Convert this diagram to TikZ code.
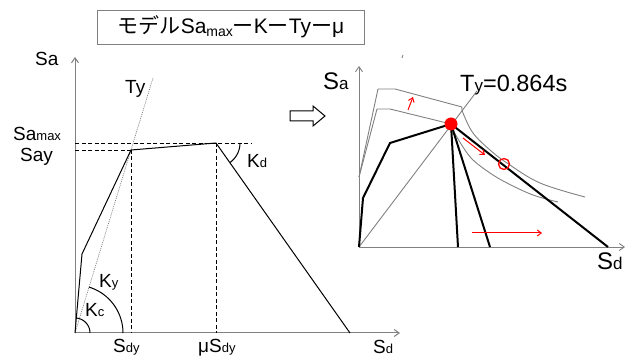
\documentclass[tikz,border=0pt]{standalone}
\usepackage{fontspec}
\setmainfont{Liberation Sans}
\newfontfamily\jpfont{Noto Sans CJK JP}
\usetikzlibrary{arrows.meta}

% small letters set after a capital
\newcommand{\lsub}[1]{{\fontsize{13}{13}\selectfont #1}}
\newcommand{\rsub}[1]{{\fontsize{17}{17}\selectfont #1}}

\begin{document}
\begin{tikzpicture}[x=1pt, y=-1pt,
    axis/.style={-{Straight Barb[length=5pt,width=7pt]}, draw=gray, line width=1pt},
    guide/.style={dash pattern=on 4pt off 2.5pt, line width=0.9pt},
    bone/.style={line width=1pt, line join=round},
    heavy/.style={line width=2pt, line join=round},
    curve/.style={draw=gray, line width=0.9pt, line join=round},
    redarrow/.style={red, line width=1pt, -{Straight Barb[length=4pt,width=6pt]}},
    lbl/.style={inner sep=0pt, anchor=base west, font=\fontsize{19}{19}\selectfont},
    rlbl/.style={inner sep=0pt, anchor=base west, font=\fontsize{24}{24}\selectfont}]
    \useasboundingbox (0,0) rectangle (630,358);

    % Title
    \node[draw=gray, line width=0.8pt, minimum width=267pt, minimum height=34pt] (titlebox) at (231,27) {};
    \node[font=\fontsize{21}{21}\selectfont] (title) at (231,27)
        {{\jpfont モデル}Sa\raisebox{-3pt}{\fontsize{14}{14}\selectfont max}{\jpfont ー}K{\jpfont ー}Ty{\jpfont ー}μ};

    % Left: axes
    \coordinate (O) at (75,333);
    \draw[axis] (O) -- (75,57);
    \draw[axis] (O) -- (400,333);
    \node[lbl] (sa) at (35,66) {Sa};
    \node[lbl] (sd) at (373,354) {S\lsub{d}};

    % Ty line
    \draw[gray, dash pattern=on 1pt off 1pt, line width=0.7pt] (O) -- (153,78);
    \node[lbl] (ty) at (125,94) {Ty};

    % Skeleton curve
    \coordinate (C) at (82,254);
    \coordinate (Y) at (131,150);
    \coordinate (M) at (216,143);
    \coordinate (U) at (350,333);
    \draw[bone] (O) -- (C) -- (Y) -- (M) -- (U);

    % Guides
    \draw[guide] (75,143) -- (252,143);
    \draw[guide] (75,150) -- (Y);
    \draw[guide] (Y) -- (131,333);
    \draw[guide] (M) -- (216,333);
    \node[lbl] (samax) at (13,141) {Sa\lsub{max}};
    \node[lbl] (say) at (20,162) {Say};
    \node[lbl] (sdy) at (113,353) {S\lsub{dy}};
    \node[lbl] (musdy) at (198,353) {μS\lsub{dy}};

    % Stiffness arcs
    \draw[bone] plot[domain=0:54.6, variable=\t] ({216+24*cos(\t)},{143+24*sin(\t)});
    \draw[bone] plot[domain=0:73, variable=\t] ({75+48*cos(\t)},{333-48*sin(\t)});
    \draw[bone] plot[domain=0:85, variable=\t] ({75+15*cos(\t)},{333-15*sin(\t)});
    \node[lbl] (kd) at (247,168) {K\lsub{d}};
    \node[lbl] (ky) at (99,288) {K\lsub{y}};
    \node[lbl] (kc) at (85,317) {K\lsub{c}};

    % Hollow arrow
    \draw[line width=1pt, line join=miter] (290,111) -- (313,111) -- (313,106) -- (325,116)
        -- (313,126) -- (313,121) -- (290,121) -- cycle;

    % Right: axes
    \coordinate (P) at (359,247);
    \draw[axis, line width=0.9pt] (P) -- (359,66);
    \draw[axis, line width=0.9pt] (P) -- (625,247);
    \draw[gray, line width=0.8pt] (403,55) -- (402,58);
    \node[rlbl] (rsa) at (323,90) {S\rsub{a}};
    \node[rlbl] (rsd) at (597,270) {S\rsub{d}};

    % Gray curves
    \coordinate (D) at (451,124);
    \draw[curve] (P) -- (477,91);
    \draw[curve] (359,177) -- (378,89) -- (395,89) -- (462,107);
    \draw[curve] plot[smooth, tension=0.6] coordinates {(462,107) (463,113) (473,133) (490,150) (507,163) (540,183) (585,197)};
    \draw[curve] (359,177) -- (377,109) -- (390,109) -- (D);
    \draw[curve] plot[smooth, tension=0.6] coordinates {(D) (453,130) (463,147) (473,160) (490,173) (507,183) (533,195) (558,202)};

    % Black curves
    \draw[heavy] (P) -- (363,198) -- (390,143) -- (D);
    \draw[heavy] (D) -- (458,247);
    \draw[heavy] (D) -- (490,247);
    \draw[heavy] (D) -- (608,247);

    % Red marks
    \fill[red] (D) circle (6.5);
    \draw[red, line width=1.3pt] (504,164) circle (5.5);
    \draw[redarrow] (408,110) -- (413,97);
    \draw[redarrow] (463,138) -- (485,155);
    \draw[redarrow] (472,233) -- (542,233);
    \node[rlbl, font=\fontsize{23.5}{23.5}\selectfont] (tylabel) at (460,92) {T\rsub{y}=0.864s};
\end{tikzpicture}
\end{document}
